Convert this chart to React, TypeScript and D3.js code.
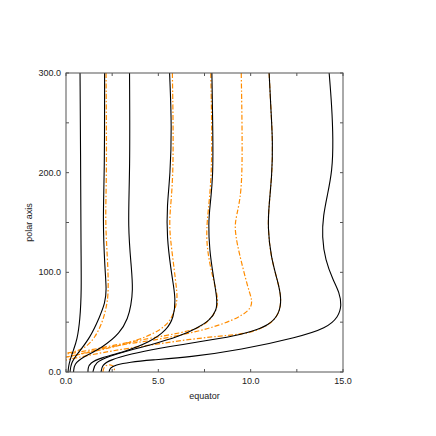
import React from "react";
import * as d3 from "d3";

// black field lines, [equator, polar axis]
const black1 = [[0.76,300],[0.79,222],[0.81,122],[0.84,82],[0.76,52],[0.6,32],[0.4,22],[0.22,12],[0.14,6],[0.11,0]];
const black2 = [[2.09,300],[2.09,202],[1.99,152],[2.11,102],[2.2,82],[2.11,69],[1.84,56],[1.3,34],[0.6,18],[0.27,9],[0.22,0]];
const black3 = [[3.44,300],[3.47,202],[3.34,145],[3.56,102],[3.62,82],[3.52,67],[3.36,54],[2.93,39],[2.01,25],[0.92,15],[0.43,8],[0.41,0]];
const black4 = [[5.61,300],[5.73,245],[5.64,197],[5.47,167],[5.46,135],[5.69,102],[5.82,87],[5.93,72],[5.84,55],[5.46,42],[4.55,30],[3.11,20],[1.84,14],[1.3,9],[1.19,4],[1.19,0]];
const black5 = [[7.9,300],[7.95,245],[7.97,197],[7.8,167],[7.71,149],[7.77,122],[7.97,97],[8.2,72],[8.15,62],[7.8,52],[7.08,44],[6.18,36],[4.55,27],[3.47,22],[2.38,16],[1.57,10],[1.46,0]];
const black6 = [[11.0,300],[11.1,262],[11.2,230],[11.15,197],[11.0,169],[10.92,145],[11.1,115],[11.45,92],[11.68,74],[11.55,58],[11.0,47],[9.97,40],[8.89,35],[6.72,29],[5.09,24],[3.47,18],[2.38,12],[1.95,7],[1.9,0]];
const black7 = [[14.25,300],[14.39,268],[14.47,232],[14.42,202],[14.15,177],[13.93,157],[13.86,136],[14.04,112],[14.47,92],[14.8,80],[14.93,67],[14.75,55],[14.1,44],[12.6,35],[9.43,22],[6.72,15],[4.55,12],[3.47,10],[2.66,7],[2.38,4],[2.33,0]];

// orange (dash-dot) field lines
const orange1 = [[2.17,300],[2.21,192],[2.11,152],[2.29,102],[2.29,77],[2.2,67],[2.02,52],[1.57,34],[1.03,24],[0.43,20],[0,19]];
const orange2 = [[5.76,300],[5.85,192],[5.54,152],[5.73,122],[6,82],[6.04,72],[5.75,52],[4.92,39],[3.11,27],[1.3,20],[0.33,16],[0,15]];
const orange3 = [[7.84,300],[7.95,197],[7.59,149],[7.63,122],[7.98,92],[8.28,72],[8.1,59],[7.44,45],[6.18,39],[4.55,34],[2.38,26],[0.76,20],[0,18]];
const orange4 = [[9.49,300],[9.58,197],[9.38,167],[9.12,149],[9.21,135],[9.34,122],[9.88,82],[10.1,72],[10.0,62],[9.07,52],[7.8,44],[6.72,39],[4.55,31],[3.47,29],[1.84,23],[0.76,18],[0,15]];
const orange5 = [[11.0,300],[11.1,262],[11.2,230],[11.15,197],[11.0,169],[10.92,145],[11.1,115],[11.45,92],[11.68,74],[11.55,58],[11.0,47],[9.97,39],[8.89,37],[6.72,33],[4.55,27],[2.38,21],[0.76,15],[0,12]];
const orange6 = [[2.0,0],[2.05,6],[2.4,8],[2.65,5],[2.6,0]];

const blackLines = [black1, black2, black3, black4, black5, black6, black7];
const orangeLines = [orange1, orange2, orange3, orange4, orange5, orange6];

const xTicks = [0, 2.5, 5, 7.5, 10, 12.5, 15];
const yTicks = [0, 50, 100, 150, 200, 250, 300];

const App = () => {
  const x = d3.scaleLinear().domain([0, 15]).range([66, 343]);
  const y = d3.scaleLinear().domain([0, 300]).range([372, 73]);

  const line = d3
    .line()
    .x((d) => x(d[0]))
    .y((d) => y(d[1]))
    .curve(d3.curveBasis);

  const axisColor = "#555";
  const font = "'Liberation Sans', Arial, sans-serif";
  const orange = "#ff8c00";
  const dash = "5,2,1.5,2";

  return (
    <svg
      width={436}
      height={436}
      style={{ position: "absolute", left: 0, top: 0, background: "#fff" }}
    >
      {/* curves, orange under black */}
      <g fill="none">
        {orangeLines.map((d, i) => (
          <path key={"o" + i} d={line(d)} stroke={orange} strokeWidth={1.2} strokeDasharray={dash} />
        ))}
        {blackLines.map((d, i) => (
          <path key={"b" + i} d={line(d)} stroke="#000" strokeWidth={1.1} />
        ))}
      </g>

      {/* frame */}
      <rect
        x={x(0)}
        y={y(300)}
        width={x(15) - x(0)}
        height={y(0) - y(300)}
        fill="none"
        stroke={axisColor}
        strokeWidth={1}
      />

      {/* ticks on all four sides */}
      {xTicks.map((t) => (
        <g key={"xt" + t} stroke={axisColor}>
          <line x1={x(t)} x2={x(t)} y1={y(0)} y2={y(0) - 3} />
          <line x1={x(t)} x2={x(t)} y1={y(300)} y2={y(300) + 3} />
        </g>
      ))}
      {yTicks.map((t) => (
        <g key={"yt" + t} stroke={axisColor}>
          <line x1={x(0)} x2={x(0) + 3} y1={y(t)} y2={y(t)} />
          <line x1={x(15)} x2={x(15) - 3} y1={y(t)} y2={y(t)} />
        </g>
      ))}

      {/* tick labels */}
      {xTicks
        .filter((t) => t % 5 === 0)
        .map((t) => (
          <text key={"xl" + t} x={x(t)} y={384} textAnchor="middle" fontFamily={font} fontSize={9} fill="#222">
            {d3.format(".1f")(t)}
          </text>
        ))}
      {yTicks
        .filter((t) => t % 100 === 0)
        .map((t) => (
          <text key={"yl" + t} x={61} y={y(t)} dy="0.35em" textAnchor="end" fontFamily={font} fontSize={9} fill="#222">
            {d3.format(".1f")(t)}
          </text>
        ))}

      {/* axis titles */}
      <text x={(x(0) + x(15)) / 2} y={399} textAnchor="middle" fontFamily={font} fontSize={9} fill="#222">
        equator
      </text>
      <text
        transform={`translate(32, ${(y(0) + y(300)) / 2}) rotate(-90)`}
        textAnchor="middle"
        fontFamily={font}
        fontSize={9}
        fill="#222"
      >
        polar axis
      </text>
    </svg>
  );
};

export default App;
